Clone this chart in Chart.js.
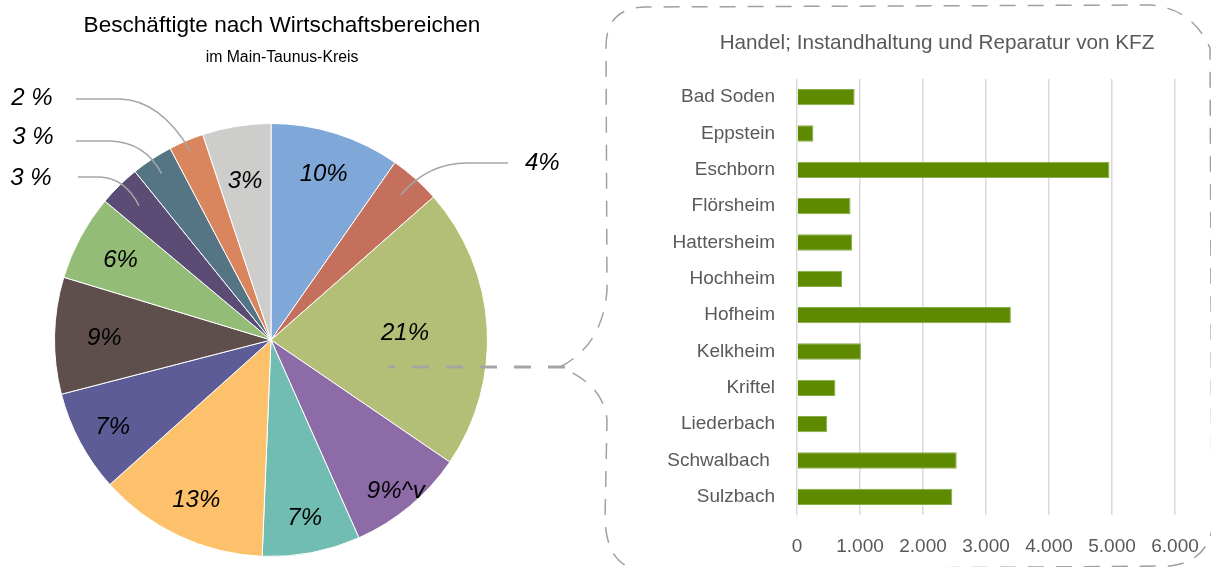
<!DOCTYPE html>
<html>
<head>
<meta charset="utf-8">
<script src="https://cdn.jsdelivr.net/npm/chart.js@4.4.1/dist/chart.umd.min.js"></script>
<style>
  html, body { margin: 0; padding: 0; background: #fff; }
  body { width: 1211px; height: 567px; position: relative; overflow: hidden; }
  #pieBox { position: absolute; left: 0; top: 0; width: 600px; height: 567px; }
  #barBox { position: absolute; left: 606px; top: 0; width: 605px; height: 567px; }
  #deco { position: absolute; left: 0; top: 0; pointer-events: none; }
</style>
</head>
<body>
<div id="pieBox"><canvas id="pie"></canvas></div>
<div id="barBox"><canvas id="bar"></canvas></div>
<svg id="deco" width="1211" height="567">
  <path d="M 560 367 Q 603 345 607 290 L 606 45 Q 607 8 645 7 L 1150 5 Q 1192 8 1210 48 L 1212 530
           Q 1205 562 1170 566 L 640 570 Q 607 566 605 520 L 607 420 Q 604 385 560 367 Z"
        fill="none" stroke="#A0A0A0" stroke-width="1.5" stroke-dasharray="16 12"/>
  <line x1="565" y1="367" x2="388" y2="367" stroke="#A5A5A5" stroke-width="3" stroke-dasharray="17 17"/>
</svg>

<script>
// pie: shares of employees per economic sector
const sectorShares = [9.7, 3.8, 21.0, 8.8, 7.3, 12.7, 7.6, 8.7, 6.4, 3.1, 3.1, 2.6, 5.1];
const sectorLabels = ["10%", "4%", "21%", "9%^v", "7%", "13%", "7%", "9%", "6%", "3 %", "3 %", "2 %", "3%"];
const sectorColors = ["#7FA8D8", "#C4705D", "#B3BF77", "#8C6BA7", "#71BDB1", "#FDC16B", "#5E5C96",
                      "#5F4F4C", "#93BC77", "#5A4C75", "#557585", "#D9855E", "#CDCDCB"];

// bar: Handel; Instandhaltung und Reparatur von KFZ
const towns = ["Bad Soden", "Eppstein", "Eschborn", "Flörsheim", "Hattersheim", "Hochheim",
               "Hofheim", "Kelkheim", "Kriftel", "Liederbach", "Schwalbach ", "Sulzbach"];
const kfzEmployees = [915, 260, 4960, 850, 875, 715, 3395, 1015, 610, 480, 2535, 2465];
const xTicks = [0, 1000, 2000, 3000, 4000, 5000, 6000];

const FONT = '"Liberation Sans", Arial, sans-serif';
Chart.defaults.font.family = FONT;

function germanNumber(v) {
  return String(v).replace(/\B(?=(\d{3})+(?!\d))/g, ".");
}

// where the in-slice labels sit (fraction of radius), null = outside with leader line
const insideAt = [0.81, null, 0.62, 0.9, 0.83, 0.81, 0.83, 0.77, 0.79, null, null, null, 0.75];
// outside labels, offsets relative to pie centre
const outsideAt = {
  1:  { f: 0.9,  text: [254, -177], align: "left",  line: [[237, -177], [196, -177]], ctrl: [157, -177] },
  9:  { f: 0.87, text: [-240, -162], align: "center", line: [[-193, -163], [-171, -163]], ctrl: [-146, -162] },
  10: { f: 0.92, text: [-238, -203], align: "center", line: [[-195, -199], [-161, -199]], ctrl: [-126, -198] },
  11: { f: 0.95, text: [-239, -242], align: "center", line: [[-195, -241], [-151, -241]], ctrl: [-111, -240] }
};

const pieText = {
  id: "pieText",
  afterDraw(chart) {
    const ctx = chart.ctx;
    ctx.save();
    ctx.fillStyle = "#000";
    ctx.textAlign = "center";
    ctx.textBaseline = "middle";
    ctx.font = "22.6px " + FONT;
    ctx.fillText("Beschäftigte nach Wirtschaftsbereichen", 282, 26);
    ctx.font = "15.8px " + FONT;
    ctx.fillText("im Main-Taunus-Kreis", 282, 58);

    const arcs = chart.getDatasetMeta(0).data;
    ctx.font = "italic 24px " + FONT;
    arcs.forEach((arc, i) => {
      const mid = (arc.startAngle + arc.endAngle) / 2;
      const cx = arc.x, cy = arc.y;
      if (insideAt[i] !== null) {
        const r = arc.outerRadius * insideAt[i];
        ctx.textAlign = "center";
        ctx.fillText(sectorLabels[i], cx + Math.cos(mid) * r, cy + Math.sin(mid) * r + 2);
        return;
      }
      const o = outsideAt[i];
      const r = arc.outerRadius * o.f;
      ctx.strokeStyle = "#A6A6A6";
      ctx.lineWidth = 1.5;
      ctx.beginPath();
      ctx.moveTo(cx + o.line[0][0], cy + o.line[0][1]);
      ctx.lineTo(cx + o.line[1][0], cy + o.line[1][1]);
      ctx.quadraticCurveTo(cx + o.ctrl[0], cy + o.ctrl[1], cx + Math.cos(mid) * r, cy + Math.sin(mid) * r);
      ctx.stroke();
      ctx.textAlign = o.align;
      ctx.fillText(sectorLabels[i], cx + o.text[0], cy + o.text[1]);
    });
    ctx.restore();
  }
};

new Chart(document.getElementById("pie"), {
  type: "pie",
  data: {
    labels: sectorLabels,
    datasets: [{
      data: sectorShares,
      backgroundColor: sectorColors,
      borderColor: "#ffffff",
      borderWidth: 1
    }]
  },
  options: {
    responsive: true,
    maintainAspectRatio: false,
    animation: false,
    layout: { padding: { left: 54, right: 112, top: 123, bottom: 10 } },
    plugins: { legend: { display: false }, tooltip: { enabled: false } }
  },
  plugins: [pieText]
});

const barTitle = {
  id: "barTitle",
  afterDraw(chart) {
    const ctx = chart.ctx;
    ctx.save();
    ctx.fillStyle = "#595959";
    ctx.font = "20.7px " + FONT;
    ctx.textAlign = "center";
    ctx.textBaseline = "middle";
    ctx.fillText("Handel; Instandhaltung und Reparatur von KFZ", 331, 43);
    ctx.restore();
  }
};

new Chart(document.getElementById("bar"), {
  type: "bar",
  data: {
    labels: towns,
    datasets: [{
      data: kfzEmployees,
      backgroundColor: "#5E8A00",
      borderColor: "#86AD4A",
      borderWidth: 1,
      categoryPercentage: 0.5,
      barPercentage: 0.9
    }]
  },
  options: {
    indexAxis: "y",
    responsive: true,
    maintainAspectRatio: false,
    animation: false,
    layout: { padding: { left: 0, right: 36, top: 79, bottom: 0 } },
    plugins: { legend: { display: false }, tooltip: { enabled: false } },
    scales: {
      x: {
        min: xTicks[0],
        max: xTicks[xTicks.length - 1],
        afterBuildTicks: (scale) => { scale.ticks = xTicks.map((v) => ({ value: v })); },
        ticks: { padding: 20, color: "#595959", font: { size: 19 }, callback: (v) => germanNumber(v) },
        grid: { color: "#D9D9D9", lineWidth: 1.5, drawTicks: false },
        border: { display: false },
        afterFit: (scale) => {
          scale.height = 52;
          scale.paddingLeft = 0;
          scale.paddingRight = 0;
        }
      },
      y: {
        ticks: { padding: 14, color: "#595959", font: { size: 19 } },
        grid: { display: false },
        border: { display: false },
        afterFit: (scale) => { scale.width = 191; }
      }
    }
  },
  plugins: [barTitle]
});
</script>
</body>
</html>
